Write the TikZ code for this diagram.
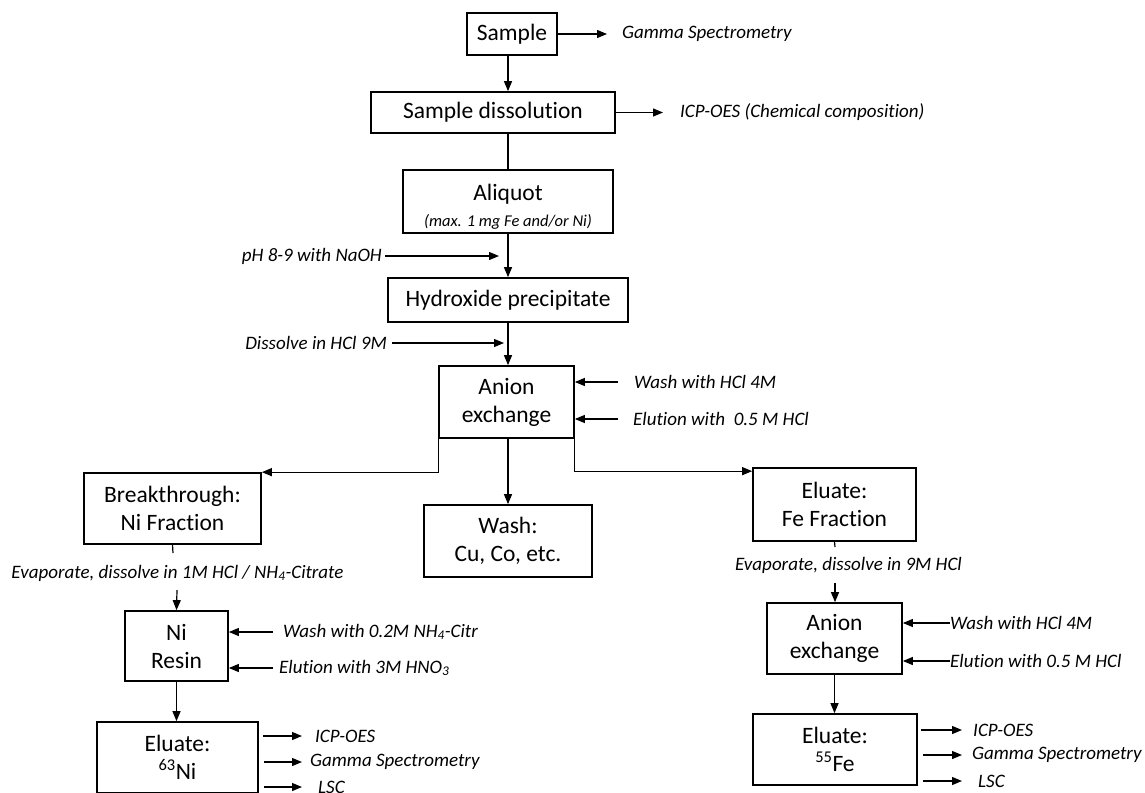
\documentclass[tikz,border=0pt]{standalone}
\usepackage{fontspec}
\setmainfont{Carlito}[Ligatures=NoCommon]
\usetikzlibrary{arrows.meta}
\begin{document}
\begin{tikzpicture}[x=1pt,y=-1pt,
  box/.style={draw, line width=1.7pt, inner sep=0pt, align=center, font=\fontsize{23.5}{28}\selectfont},
  lab/.style={inner sep=0pt, font=\fontsize{19}{22}\selectfont\itshape},
  conn/.style={line width=1.2pt},
  arr/.style={conn, -{Triangle[length=10pt,width=8pt]}}]
\useasboundingbox (0,0) rectangle (1145,792);
\clip (0,0) rectangle (1145,792);
\fill[white] (0,0) rectangle (1145,792);

% boxes
\node[box, minimum width=90pt, minimum height=42pt] (sample) at (512,34) {Sample};
\node[box, minimum width=244pt, minimum height=41pt] (dissol) at (493,112.5) {Sample dissolution};
\node[box, minimum width=210pt, minimum height=63pt] (aliquot) at (508,201.5) {\rule{0pt}{26pt}Aliquot\\[-2pt]{\fontsize{16.5}{20}\selectfont\itshape (max. 1 mg Fe and/or Ni)}};
\node[box, minimum width=240pt, minimum height=44pt] (hydrox) at (508,300) {Hydroxide precipitate};
\node[box, minimum width=135pt, minimum height=72pt] (anion) at (506.5,402) {Anion\\exchange};
\node[box, minimum width=177pt, minimum height=71pt] (brk) at (172.5,508.5) {Breakthrough:\\Ni Fraction};
\node[box, minimum width=168pt, minimum height=72pt] (wash) at (508,541) {Wash:\\Cu, Co, etc.};
\node[box, minimum width=163pt, minimum height=73pt] (fefrac) at (834.5,504.5) {Eluate:\\Fe Fraction};
\node[box, minimum width=103pt, minimum height=70pt] (niresin) at (176.5,646) {Ni\\Resin};
\node[box, minimum width=135pt, minimum height=71pt] (anion2) at (834.5,638.5) {Anion\\exchange};
\node[box, minimum width=161pt, minimum height=71pt] (ni63) at (177.5,757.5) {Eluate:\\\textsuperscript{63}Ni};
\node[box, minimum width=164pt, minimum height=71pt] (fe55) at (835,749.5) {Eluate:\\\textsuperscript{55}Fe};

% labels
\node[lab, anchor=west] (gamma) at (622,34) {Gamma Spectrometry};
\node[lab, anchor=west] (icp) at (680,112.5) {ICP-OES (Chemical composition)};
\node[lab, anchor=east] (ph) at (382,256) {pH 8-9 with NaOH};
\node[lab, anchor=east] (dis) at (387,343) {Dissolve in HCl 9M};
\node[lab, anchor=west] (wa1) at (634,382) {Wash with HCl 4M};
\node[lab, anchor=west] (el1) at (633,419) {Elution with~ 0.5 M HCl};
\node[lab] (evni) at (177.5,573) {Evaporate, dissolve in 1M HCl / NH\textsubscript{4}-Citrate};
\node[lab] (evfe) at (848.5,565) {Evaporate, dissolve in 9M HCl};
\node[lab, anchor=west] (wa2) at (283,632) {Wash with 0.2M NH\textsubscript{4}-Citr};
\node[lab, anchor=west] (el2) at (279,668) {Elution with 3M HNO\textsubscript{3}};
\node[lab, anchor=west] (wa3) at (950,623) {Wash with HCl 4M};
\node[lab, anchor=west] (el3) at (950,661) {Elution with 0.5 M HCl};
\node[lab, anchor=west] (n1) at (315,736) {ICP-OES};
\node[lab, anchor=west] (n2) at (310,762) {Gamma Spectrometry};
\node[lab, anchor=west] (n3) at (318,787) {LSC};
\node[lab, anchor=west] (f1) at (973,730) {ICP-OES};
\node[lab, anchor=west] (f2) at (972,755) {Gamma Spectrometry};
\node[lab, anchor=west] (f3) at (978,781) {LSC};

% free ends
\coordinate (phend) at (499,256);
\coordinate (disend) at (504,343);
\coordinate (brkend) at (173,553);
\coordinate (evnistart) at (177,590);
\coordinate (fefracend) at (835,547);
\coordinate (evfestart) at (835,583);

% main column
\draw[arr] (sample.south -| aliquot.center) -- (dissol.north -| aliquot.center);
\draw[conn] (dissol.south -| aliquot.center) -- (aliquot.north);
\draw[arr] (aliquot.south) -- (hydrox.north);
\draw[arr] (hydrox.south) -- (anion.north -| hydrox.center);
\draw[arr] (anion.south -| wash.center) -- (wash.north);

% outputs top
\draw[arr, shorten >=15pt] (sample.east) -- (gamma.west);
\draw[arr, shorten >=17pt] (dissol.east) -- (icp.west);

% side inputs
\draw[arr, shorten <=3pt] (ph.east) -- (phend);
\draw[arr, shorten <=5pt] (dis.east) -- (disend);
\draw[arr, shorten <=16pt] (wa1.west) -- (wa1.west -| anion.east);
\draw[arr, shorten <=15pt] (el1.west) -- (el1.west -| anion.east);

% branches
\draw[arr] (anion.south west) |- (brk.north east);
\draw[arr] (anion.south east) |- ([yshift=-4pt]fefrac.north west);

% Ni column
\draw[conn] (brk.south) -- (brkend);
\draw[arr] (evnistart) -- (niresin.north);
\draw[arr, shorten <=10pt] (wa2.west) -- (wa2.west -| niresin.east);
\draw[arr, shorten <=6pt] (el2.west) -- (el2.west -| niresin.east);
\draw[arr] (niresin.south) -- (ni63.north -| niresin.south);
\draw[arr, shorten <=4pt, shorten >=13pt] (n1.west -| ni63.east) -- (n1.west);
\draw[arr, shorten <=5pt, shorten >=8pt] (n2.west -| ni63.east) -- (n2.west);
\draw[arr, shorten <=5pt, shorten >=16pt] (n3.west -| ni63.east) -- (n3.west);

% Fe column
\draw[conn] (fefrac.south) -- (fefracend);
\draw[arr] (evfestart) -- (anion2.north -| evfestart);
\draw[arr] (wa3.west) -- (wa3.west -| anion2.east);
\draw[arr] (el3.west) -- (el3.west -| anion2.east);
\draw[arr] (anion2.south) -- (fe55.north -| anion2.south);
\draw[arr, shorten <=3pt, shorten >=11pt] (f1.west -| fe55.east) -- (f1.west);
\draw[arr, shorten <=5pt, shorten >=10pt] (f2.west -| fe55.east) -- (f2.west);
\draw[arr, shorten <=5pt, shorten >=16pt] (f3.west -| fe55.east) -- (f3.west);
\end{tikzpicture}
\end{document}
